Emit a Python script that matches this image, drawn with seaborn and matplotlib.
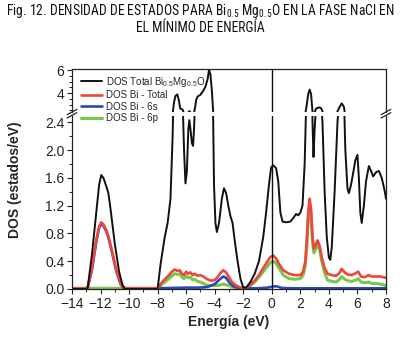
import numpy as np
import pandas as pd
import matplotlib
matplotlib.use("Agg")
import matplotlib.pyplot as plt
from matplotlib.lines import Line2D
from matplotlib.ticker import MultipleLocator
import seaborn as sns

# --- data (energy in eV, DOS in estados/eV) ---
e_total = [-14, -13.0, -12.9, -12.6, -12.3, -12.1, -11.95, -11.8, -11.6, -11.45, -11.3, -11.0, -10.7,
           -10.45, -10.3, -8.0, -7.8, -7.5, -7.3, -7.1, -6.95, -6.85, -6.75, -6.62, -6.5, -6.42, -6.3,
           -6.22, -6.15, -6.05, -5.95, -5.85, -5.78, -5.7, -5.6, -5.52, -5.45, -5.38, -5.3, -5.2, -5.0,
           -4.8, -4.65, -4.5, -4.4, -4.3, -4.2, -4.12, -4.05, -3.95, -3.85, -3.7, -3.5, -3.35, -3.2,
           -3.05, -2.9, -2.75, -2.6, -2.4, -2.2, -2.0, -1.8, -1.5, -1.2, -0.9, -0.6, -0.4, -0.2, -0.05,
           0.1, 0.3, 0.45, 0.6, 0.75, 1.0, 1.3, 1.5, 1.7, 1.85, 2.0, 2.15, 2.3, 2.45, 2.55, 2.65, 2.75,
           2.85, 2.92, 3.0, 3.1, 3.3, 3.45, 3.55, 3.7, 3.85, 4.0, 4.1, 4.2, 4.4, 4.6, 4.75, 4.9, 5.05,
           5.15, 5.3, 5.4, 5.55, 5.7, 5.85, 6.0, 6.1, 6.2, 6.3, 6.45, 6.6, 6.8, 6.95, 7.1, 7.3, 7.5,
           7.7, 7.9, 8.0]
dos_total = [0, 0, 0.02, 0.5, 1.1, 1.5, 1.64, 1.6, 1.48, 1.38, 1.15, 0.65, 0.25,
             0.05, 0, 0, 0.35, 0.75, 0.95, 1.3, 2.2, 3.2, 3.75, 3.88, 3.3, 2.65, 2.6,
             2.5, 2.0, 1.52, 1.7, 2.3, 2.43, 2.3, 2.1, 2.06, 2.3, 2.7, 3.4, 3.7, 3.85,
             4.2, 4.55, 5.2, 6.05, 5.6, 4.2, 2.6, 1.5, 0.95, 0.82, 0.95, 1.3, 1.45, 1.38,
             1.2, 1.05, 0.95, 0.7, 0.4, 0.15, 0.02, 0.02, 0.1, 0.22, 0.4, 0.75, 1.1, 1.5, 1.75,
             1.78, 1.74, 1.55, 1.1, 0.97, 0.96, 0.97, 1.02, 1.08, 1.06, 1.1, 1.2, 1.8, 3.0, 3.9, 4.3, 3.9,
             2.4, 1.9, 2.3, 2.65, 2.75, 2.7, 2.4, 1.4, 0.75, 0.45, 0.42, 0.6, 1.4, 2.4, 2.8, 3.1, 2.8,
             2.0, 1.45, 1.38, 1.5, 1.67, 1.85, 1.93, 1.6, 1.1, 0.95, 1.2, 1.55, 1.77, 1.7, 1.62, 1.68, 1.7,
             1.6, 1.42, 1.3]

e_bi = [-14, -13.0, -12.9, -12.6, -12.3, -12.1, -11.95, -11.8, -11.6, -11.45, -11.2, -10.9, -10.6,
        -10.4, -10.2, -8.0, -7.8, -7.5, -7.2, -7.0, -6.8, -6.6, -6.45, -6.3, -6.15, -6.0, -5.85,
        -5.7, -5.55, -5.4, -5.2, -5.0, -4.8, -4.6, -4.4, -4.2, -4.0, -3.8, -3.6, -3.4, -3.2, -3.0,
        -2.8, -2.5, -2.2, -2.0, -1.8, -1.5, -1.2, -0.9, -0.6, -0.3, -0.1, 0.1, 0.3, 0.5, 0.8, 1.2,
        1.6, 2.0, 2.2, 2.35, 2.45, 2.55, 2.65, 2.75, 2.85, 2.95, 3.05, 3.2, 3.35, 3.5, 3.7, 3.9,
        4.2, 4.5, 4.7, 4.9, 5.1, 5.3, 5.6, 5.9, 6.05, 6.25, 6.5, 6.8, 7.0, 7.3, 7.6, 8.0]
dos_bi_total = [0.01, 0.01, 0.02, 0.3, 0.7, 0.9, 0.96, 0.93, 0.85, 0.76, 0.55, 0.28, 0.08,
                0.02, 0.01, 0.01, 0.07, 0.14, 0.2, 0.25, 0.28, 0.26, 0.27, 0.22, 0.2, 0.25, 0.22,
                0.24, 0.2, 0.22, 0.19, 0.2, 0.18, 0.15, 0.13, 0.12, 0.13, 0.17, 0.23, 0.27, 0.24, 0.17,
                0.1, 0.05, 0.02, 0.01, 0.02, 0.06, 0.12, 0.2, 0.3, 0.4, 0.46, 0.48, 0.44, 0.36, 0.27, 0.22,
                0.2, 0.2, 0.25, 0.4, 0.7, 1.1, 1.3, 1.15, 0.75, 0.58, 0.62, 0.7, 0.62, 0.45, 0.3, 0.22,
                0.2, 0.19, 0.22, 0.29, 0.24, 0.21, 0.2, 0.23, 0.25, 0.18, 0.17, 0.2, 0.18, 0.18, 0.18, 0.16]
dos_bi_6p = [0.01, 0.01, 0.01, 0.01, 0.01, 0.01, 0.01, 0.01, 0.01, 0.01, 0.01, 0.01, 0.01,
             0.01, 0.01, 0.01, 0.05, 0.1, 0.15, 0.19, 0.22, 0.21, 0.22, 0.17, 0.15, 0.19, 0.16,
             0.17, 0.13, 0.14, 0.11, 0.1, 0.08, 0.06, 0.05, 0.05, 0.05, 0.05, 0.06, 0.07, 0.06, 0.05,
             0.03, 0.02, 0.01, 0.01, 0.02, 0.05, 0.1, 0.17, 0.25, 0.33, 0.38, 0.4, 0.37, 0.3, 0.2, 0.15,
             0.14, 0.15, 0.2, 0.35, 0.62, 1.0, 1.2, 1.05, 0.68, 0.52, 0.56, 0.64, 0.57, 0.4, 0.23, 0.13,
             0.11, 0.1, 0.13, 0.18, 0.14, 0.12, 0.11, 0.13, 0.15, 0.1, 0.09, 0.1, 0.08, 0.08, 0.07, 0.05]

e_6s = [-14, -13.0, -12.9, -12.6, -12.3, -12.1, -11.95, -11.8, -11.6, -11.45, -11.2, -10.9, -10.6,
        -10.4, -10.2, -8.0, -7.0, -6.0, -5.0, -4.5, -4.0, -3.7, -3.4, -3.2, -3.0, -2.7, -2.4, -2.0,
        -1.0, -0.3, 0.2, 0.4, 0.7, 1.5, 3.0, 5.0, 8.0]
dos_6s = [0.01, 0.01, 0.02, 0.28, 0.68, 0.88, 0.94, 0.91, 0.83, 0.74, 0.53, 0.26, 0.07,
          0.02, 0.01, 0.01, 0.015, 0.02, 0.02, 0.03, 0.07, 0.13, 0.18, 0.16, 0.1, 0.04, 0.02, 0.01,
          0.01, 0.02, 0.04, 0.035, 0.015, 0.01, 0.01, 0.01, 0.01]

series_names = ["DOS Total Bi$_{0.5}$Mg$_{0.5}$O", "DOS Bi - Total", "DOS Bi - 6s", "DOS Bi - 6p"]
series_colors = ["#111111", "#f0453a", "#2a48b8", "#78c84a"]
series_widths = [1.4, 1.9, 1.9, 2.2]

x_ticks = list(range(-14, 9, 2))
y_ticks_low = [0.0, 0.4, 0.8, 1.2, 1.6, 2.0, 2.4]
y_ticks_high = [4, 6]

df = pd.concat([
    pd.DataFrame({"E": e_total, "DOS": dos_total, "serie": series_names[0]}),
    pd.DataFrame({"E": e_bi, "DOS": dos_bi_total, "serie": series_names[1]}),
    pd.DataFrame({"E": e_6s, "DOS": dos_6s, "serie": series_names[2]}),
    pd.DataFrame({"E": e_bi, "DOS": dos_bi_6p, "serie": series_names[3]}),
], ignore_index=True)

sns.set_style("ticks")
plt.rcParams["font.family"] = ["Liberation Sans", "DejaVu Sans"]
plt.rcParams["mathtext.default"] = "regular"

W, H = 401, 337
fig = plt.figure(figsize=(W / 100, H / 100), dpi=100)
left, right = 72 / W, 386 / W
ax_lo = fig.add_axes([left, 1 - 289 / H, right - left, (289 - 116) / H])
ax_hi = fig.add_axes([left, 1 - 112 / H, right - left, (112 - 69) / H])

# draw the 6p, 6s, Bi total, then total on top (as in the original)
order = [3, 2, 1, 0]
for ax in (ax_lo, ax_hi):
    for i in order:
        sub = df[df["serie"] == series_names[i]]
        sns.lineplot(data=sub, x="E", y="DOS", ax=ax, color=series_colors[i],
                     linewidth=series_widths[i], sort=False, estimator=None, legend=False)
    ax.axvline(0, color="#111111", lw=1.0, zorder=5)
    ax.set_xlim(-14, 8)
    ax.set_xlabel("")
    ax.set_ylabel("")
    for s in ax.spines.values():
        s.set_linewidth(0.9)
        s.set_color("#222222")
    ax.tick_params(which="major", length=3.5, width=0.8, labelsize=10, colors="#222222", pad=2)
    ax.tick_params(which="minor", length=2, width=0.7, colors="#222222")

ax_lo.set_ylim(0, 2.49)
ax_lo.set_yticks(y_ticks_low)
ax_lo.set_yticklabels([f"{v:.1f}" for v in y_ticks_low])
ax_lo.yaxis.set_minor_locator(MultipleLocator(0.2))
ax_lo.set_xticks(x_ticks)
ax_lo.xaxis.set_minor_locator(MultipleLocator(1))
ax_lo.spines["top"].set_visible(False)
ax_lo.tick_params(axis="x", which="both", top=False)

ax_hi.set_ylim(2.35, 6.09)
ax_hi.set_yticks(y_ticks_high)
ax_hi.yaxis.set_minor_locator(MultipleLocator(0.5))
ax_hi.set_xticks(x_ticks)
ax_hi.tick_params(axis="x", which="both", bottom=False, labelbottom=False)
ax_hi.spines["bottom"].set_visible(False)

# break marks on both vertical spines
for xb in (left, right):
    for dy in (-0.004, 0.006):
        yb = 1 - 114 / H + dy
        fig.add_artist(Line2D([xb - 0.012, xb + 0.012], [yb - 0.008, yb + 0.008],
                              color="#222222", lw=0.9))

ax_lo.set_xlabel("Energía (eV)", fontsize=10, fontweight="bold", labelpad=3)
fig.text(15 / W, 1 - 180 / H, "DOS (estados/eV)", rotation=90, fontsize=10,
         fontweight="bold", ha="center", va="center")

handles = [Line2D([], [], color=c, lw=w) for c, w in zip(series_colors, series_widths)]
fig.legend(handles, series_names, loc="upper left", bbox_to_anchor=(77 / W, 1 - 71 / H),
           frameon=False, fontsize=7, handlelength=2.2, handletextpad=0.35,
           labelspacing=0.15, borderaxespad=0)

title_lines = ["Fig. 12. DENSIDAD DE ESTADOS PARA Bi$_{0.5}$ Mg$_{0.5}$O EN LA FASE NaCl EN",
               "EL MÍNIMO DE ENERGÍA"]
title_fams = ["Liberation Sans Narrow", "Roboto Condensed", "DejaVu Sans Condensed",
              "Liberation Sans", "DejaVu Sans"]
t1 = fig.text(0.5, 1 - 11.5 / H, title_lines[0], ha="center", va="center", fontsize=10,
              family=title_fams, color="#111111")
t2 = fig.text(0.5, 1 - 27.5 / H, title_lines[1], ha="center", va="center", fontsize=10,
              family=title_fams, color="#111111")
# shrink the title so the first line spans about the same width as in the original
fig.canvas.draw()
w1 = t1.get_window_extent().width
fs = 10 * 388 / w1
t1.set_fontsize(fs)
t2.set_fontsize(fs)

fig.savefig("out.png", dpi=100)
